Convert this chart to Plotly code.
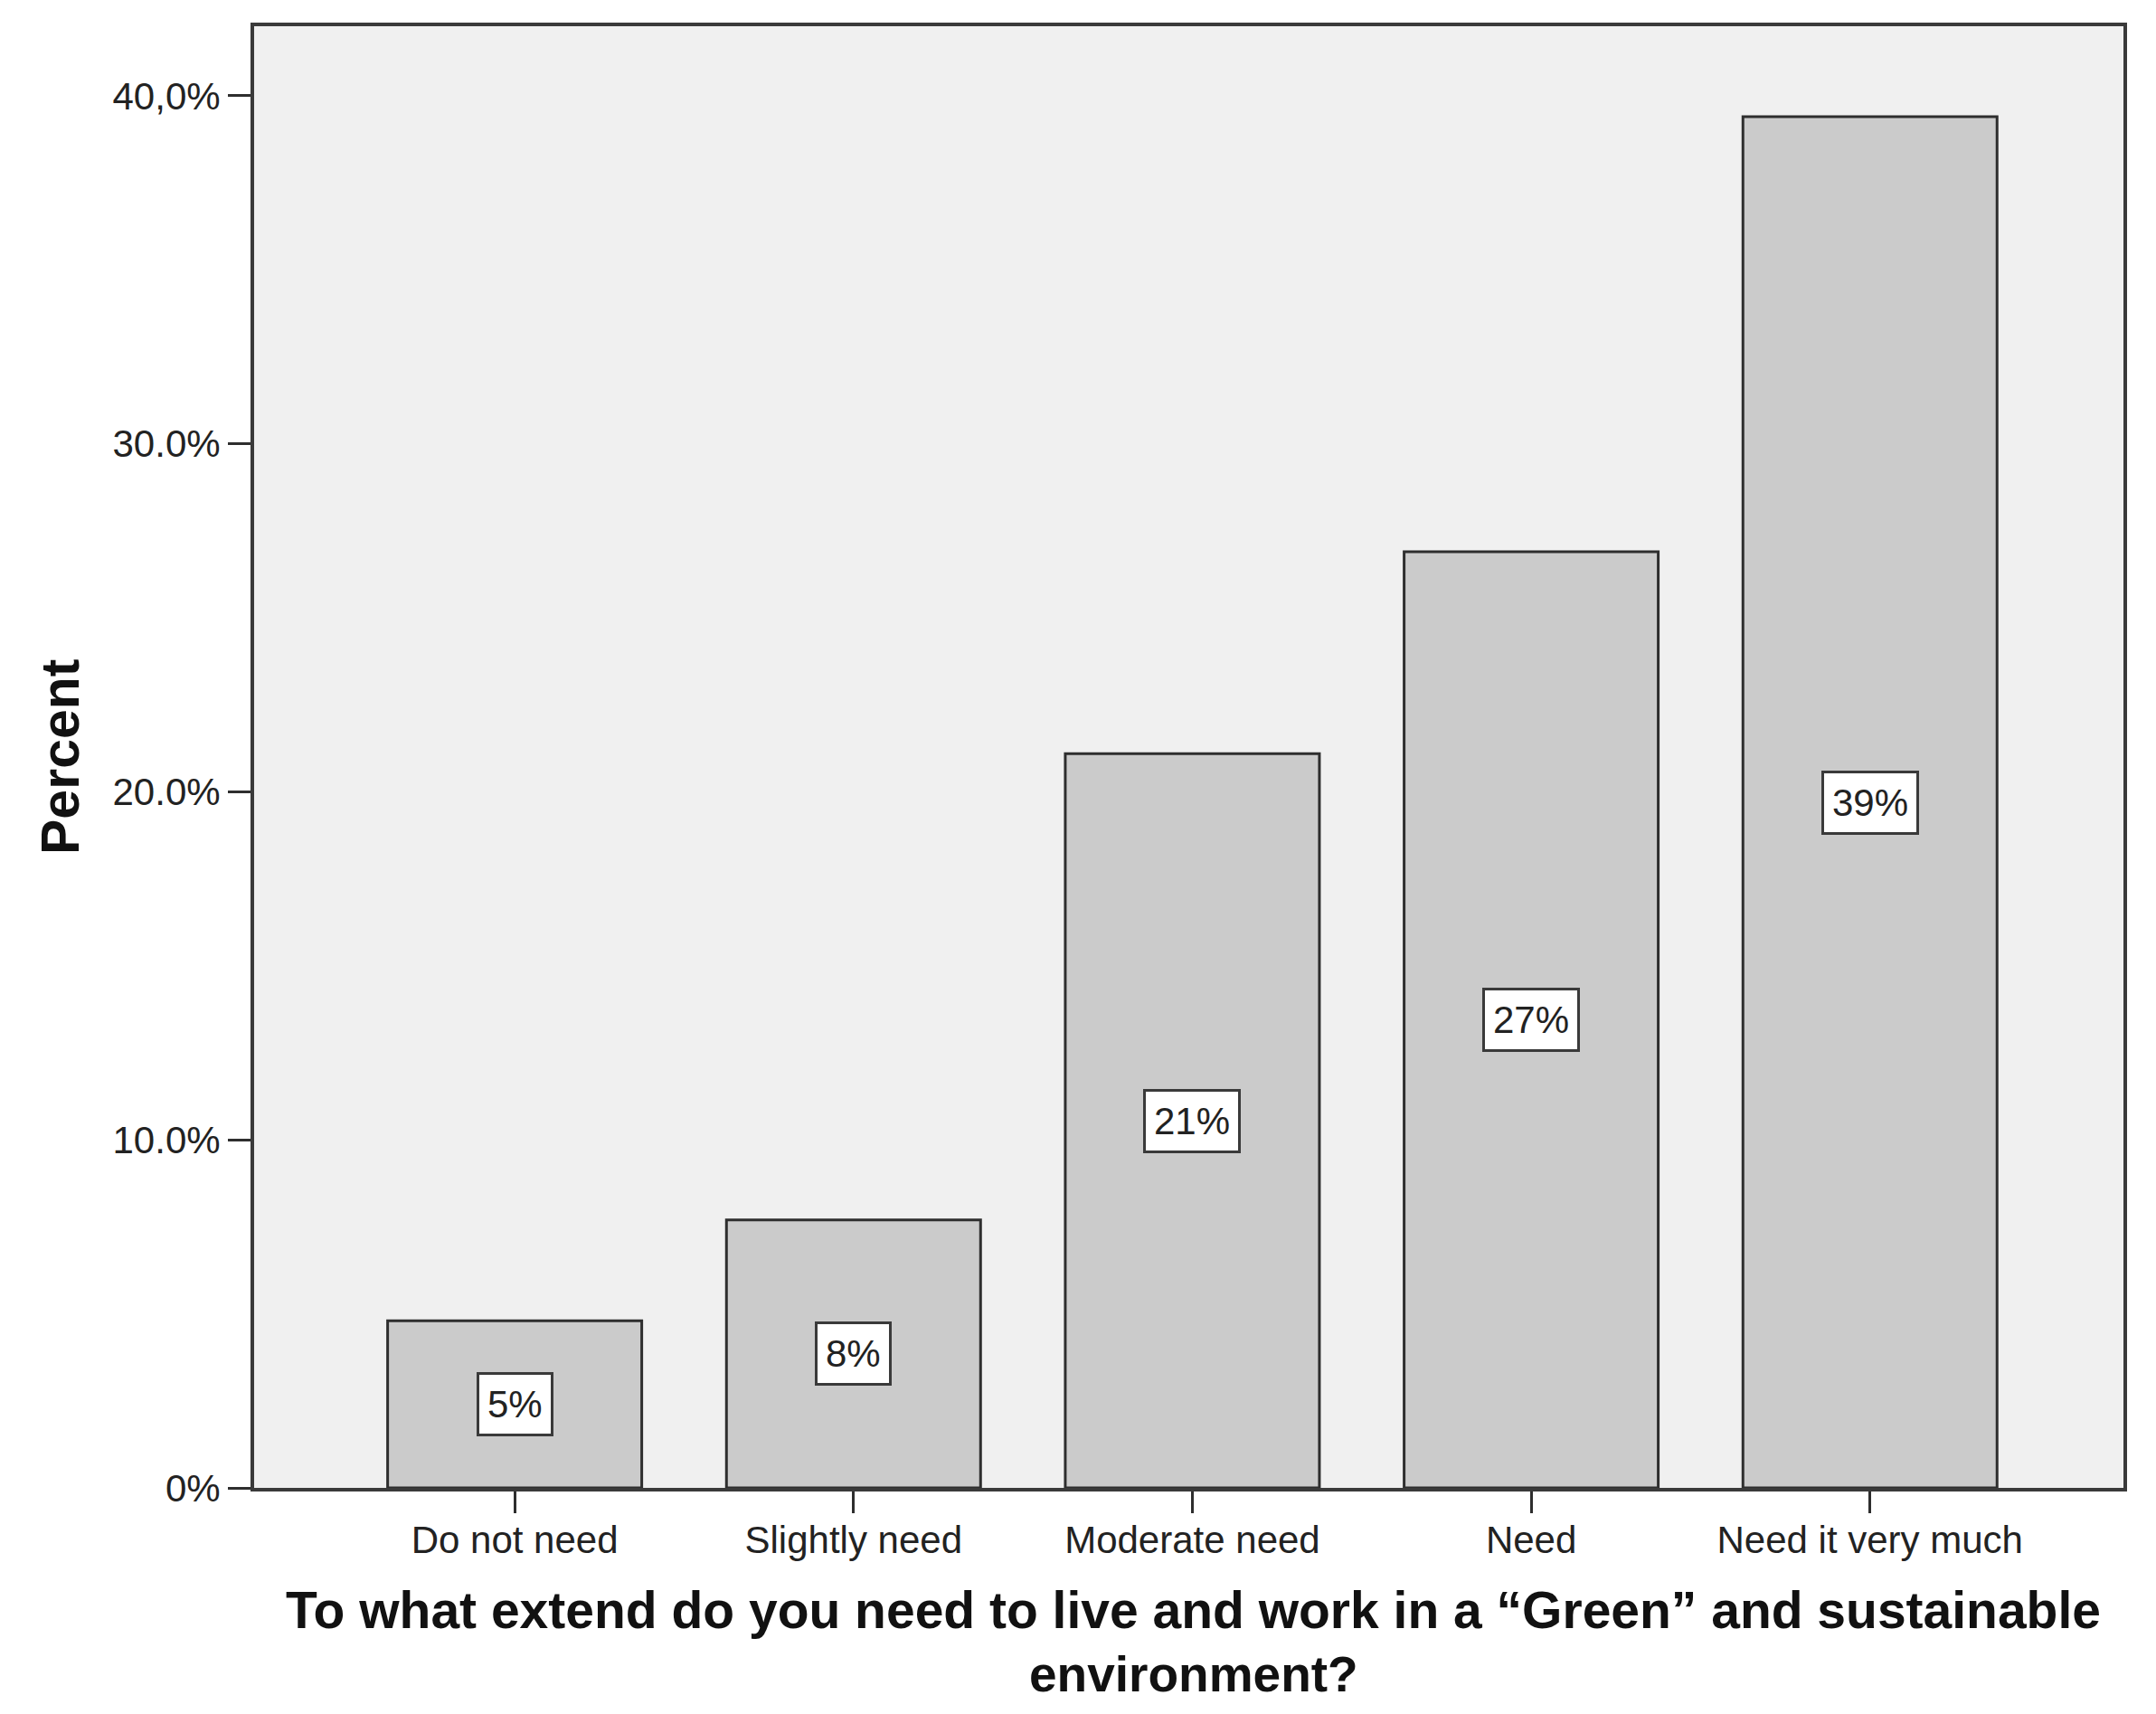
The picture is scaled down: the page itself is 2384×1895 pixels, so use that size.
import plotly.graph_objects as go

categories = ["Do not need", "Slightly need", "Moderate need", "Need", "Need it very much"]
percent_values = [4.8, 7.7, 21.1, 26.9, 39.4]
bar_labels = ["5%", "8%", "21%", "27%", "39%"]
y_tick_values = [0, 10, 20, 30, 40]
y_tick_labels = ["0%", "10.0%", "20.0%", "30.0%", "40,0%"]
x_title_lines = ["To what extend do you need to live and work in a \u201cGreen\u201d and sustainable",
                 "environment?"]
y_title = "Percent"

FONT = "Liberation Sans, Arial, sans-serif"

fig = go.Figure()
fig.add_trace(go.Bar(
    x=list(range(len(categories))),
    y=percent_values,
    width=0.75,
    marker=dict(color="#cbcbcb", line=dict(color="#2e2e2e", width=3)),
    hoverinfo="skip",
))

for i, (v, lab) in enumerate(zip(percent_values, bar_labels)):
    fig.add_annotation(
        x=i, y=v / 2, xref="x", yref="y", text=lab, showarrow=False,
        font=dict(family=FONT, size=42, color="#222222"),
        bgcolor="#ffffff", bordercolor="#3a3a3a", borderwidth=3, borderpad=9,
    )

fig.add_annotation(
    x=0.5, y=0, xref="paper", yref="paper", yanchor="middle", xanchor="center",
    yshift=-135, xshift=5, text="<b>%s</b>" % x_title_lines[0], showarrow=False,
    font=dict(family=FONT, size=57, color="#111111"),
)
fig.add_annotation(
    x=0.5, y=0, xref="paper", yref="paper", yanchor="middle", xanchor="center",
    yshift=-206, xshift=5, text="<b>%s</b>" % x_title_lines[1], showarrow=False,
    font=dict(family=FONT, size=55, color="#111111"),
)
fig.add_annotation(
    x=0, y=0.5, xref="paper", yref="paper", xanchor="center", yanchor="middle",
    xshift=-214, text="<b>%s</b>" % y_title, showarrow=False, textangle=-90,
    font=dict(family=FONT, size=59, color="#111111"),
)

fig.update_layout(
    width=2384, height=1895,
    margin=dict(l=273, r=44, t=21, b=258, autoexpand=False),
    paper_bgcolor="#ffffff",
    plot_bgcolor="#f0f0f0",
    showlegend=False,
    bargap=0.25,
)
fig.update_xaxes(
    range=[-0.769, 4.748],
    tickmode="array", tickvals=list(range(len(categories))), ticktext=categories,
    ticks="outside", ticklen=24, tickwidth=3, tickcolor="#2e2e2e",
    tickfont=dict(family=FONT, size=42, color="#222222"),
    ticklabelstandoff=-6,
    showline=True, linecolor="#3a3a3a", linewidth=4, mirror=True,
    showgrid=False, zeroline=False, fixedrange=True,
)
fig.update_yaxes(
    range=[0, 42.0],
    tickmode="array", tickvals=y_tick_values, ticktext=y_tick_labels,
    ticks="outside", ticklen=25, tickwidth=3, tickcolor="#2e2e2e",
    tickfont=dict(family=FONT, size=42, color="#222222"),
    showline=True, linecolor="#3a3a3a", linewidth=4, mirror=True,
    showgrid=False, zeroline=False, fixedrange=True,
)

fig.write_html("out.html")
